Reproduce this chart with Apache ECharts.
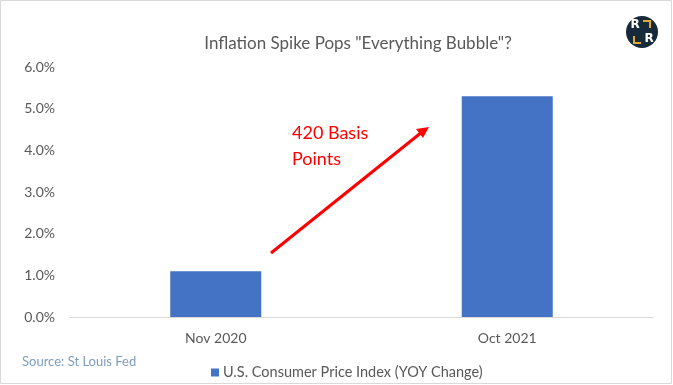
<!DOCTYPE html>
<html>
<head>
<meta charset="utf-8">
<script src="https://cdn.jsdelivr.net/npm/echarts@6/dist/echarts.min.js"></script>
<style>html,body{margin:0;padding:0;background:#fff}#c{width:673px;height:385px}</style>
</head>
<body>
<div id="c"></div>
<script>
const categories = ['Nov 2020', 'Oct 2021'];
const cpiValues = [1.1, 5.3];
const yTicks = [0, 1, 2, 3, 4, 5, 6];
const seriesName = 'U.S. Consumer Price Index (YOY Change)';
const titleText = 'Inflation Spike Pops "Everything Bubble"?';
const annotationText = '420 Basis\nPoints';
const sourceText = 'Source: St Louis Fed';

const FONT = 'Lato, "Open Sans", sans-serif';
const chart = echarts.init(document.getElementById('c'), null, {renderer: 'canvas'});
chart.setOption({
  animation: false,
  backgroundColor: '#fff',
  title: {
    text: titleText, left: 353, top: 30, textAlign: 'center',
    textStyle: {fontFamily: FONT, fontSize: 17, fontWeight: 'normal', color: '#595959'}
  },
  legend: {
    data: [seriesName], left: 206, top: 360, itemWidth: 8, itemHeight: 8, itemGap: 5,
    icon: 'rect',
    textStyle: {fontFamily: FONT, fontSize: 14.5, color: '#595959', padding: [0,0,0,-1]}
  },
  grid: {left: 70, right: 20, top: 67, bottom: 68, containLabel: false},
  xAxis: {
    type: 'category', data: categories,
    axisLine: {lineStyle: {color: '#d9d9d9', width: 1}},
    axisTick: {show: false},
    axisLabel: {fontFamily: FONT, fontSize: 14, color: '#595959', margin: 14}
  },
  yAxis: {
    type: 'value', min: yTicks[0], max: yTicks[yTicks.length-1], interval: 1,
    axisLine: {show: false}, axisTick: {show: false}, splitLine: {show: false},
    axisLabel: {fontFamily: FONT, fontSize: 14, color: '#595959', margin: 15,
      formatter: v => v.toFixed(1) + '%'}
  },
  series: [{
    name: seriesName, type: 'bar', data: cpiValues, barWidth: 91,
    itemStyle: {color: '#4472C4'}
  }],
  graphic: [
    {type: 'rect', shape: {x: 0.5, y: 0.5, width: 671, height: 383}, style: {fill: 'none', stroke: '#d9d9d9', lineWidth: 1}, silent: true},
    {type: 'text', left: 22, top: 355, style: {text: sourceText, fontFamily: FONT, fontSize: 13, fill: '#7f9cc0'}},
    {type: 'text', left: 292, top: 120, style: {text: annotationText, fontFamily: FONT, fontSize: 18, lineHeight: 26, fill: '#ff0000'}},
    {type: 'line', shape: {x1: 271, y1: 253, x2: 422, y2: 132}, style: {stroke: '#ff0000', lineWidth: 3}},
    {type: 'polygon', shape: {points: [[429, 127], [416, 129], [423, 138]]}, style: {fill: '#ff0000'}},
    {type: 'circle', shape: {cx: 642, cy: 32, r: 16}, style: {fill: '#172a3a'}},
    {type: 'text', x: 635, y: 25, style: {text: 'R', fontFamily: 'DejaVu Sans', fontWeight: 'bold', fontSize: 12, fill: '#fff', align: 'center', verticalAlign: 'middle'}},
    {type: 'text', x: 649, y: 39, style: {text: 'R', fontFamily: 'DejaVu Sans', fontWeight: 'bold', fontSize: 12, fill: '#fff', align: 'center', verticalAlign: 'middle'}},
    {type: 'polyline', shape: {points: [[643, 21], [650, 21], [650, 28]]}, style: {stroke: '#e0a82e', lineWidth: 2, fill: 'none'}},
    {type: 'polyline', shape: {points: [[634, 36], [634, 43], [641, 43]]}, style: {stroke: '#e0a82e', lineWidth: 2, fill: 'none'}}
  ]
});
</script>
</body>
</html>
